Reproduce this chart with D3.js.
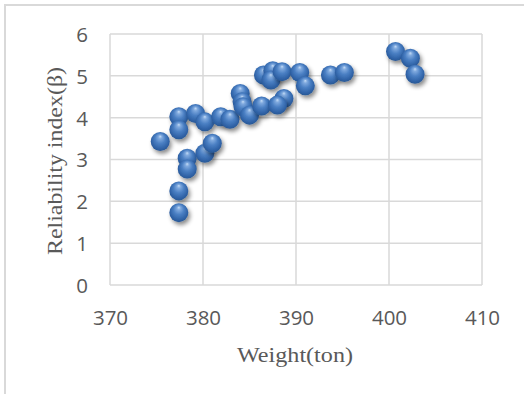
<!DOCTYPE html>
<html>
<head>
<meta charset="utf-8">
<script src="https://cdn.jsdelivr.net/npm/d3@7"></script>
<style>
  html, body { margin: 0; padding: 0; background: #fff; }
  svg { display: block; }
</style>
</head>
<body>
<svg id="chart" width="524" height="394"></svg>
<script>
const weights = [375.4, 377.4, 377.4, 378.3, 378.3, 377.4, 377.4, 379.2, 380.2, 380.2,
                 381.0, 381.9, 382.9, 384.0, 384.2, 384.3, 385.0, 386.3, 386.5, 387.5,
                 387.3, 388.5, 388.7, 388.0, 390.4, 391.0, 393.7, 395.2, 400.7, 402.3, 402.8];
const betas   = [3.43, 4.02, 3.71, 3.03, 2.77, 2.25, 1.73, 4.10, 3.90, 3.15,
                 3.39, 4.02, 3.96, 4.58, 4.38, 4.26, 4.06, 4.28, 5.02, 5.12,
                 4.90, 5.10, 4.46, 4.30, 5.08, 4.76, 5.02, 5.08, 5.58, 5.42, 5.04];
const xTicks = [370, 380, 390, 400, 410];
const yTicks = [0, 1, 2, 3, 4, 5, 6];
const xTitle = "Weight(ton)";
const yTitle = "Reliability index(β)";

const svg = d3.select("#chart");
const x = d3.scaleLinear().domain([370, 410]).range([110, 482]);
const y = d3.scaleLinear().domain([0, 6]).range([285, 34]);

// chart border
svg.append("rect").attr("x", 5).attr("y", 5).attr("width", 530).attr("height", 400)
  .attr("fill", "none").attr("stroke", "#d9d9d9").attr("stroke-width", 2);

const defs = svg.append("defs");
const grad = defs.append("radialGradient").attr("id", "ball")
  .attr("cx", "50%").attr("cy", "45%").attr("r", "55%")
  .attr("fx", "50%").attr("fy", "22%");
[["0%", "#c4dcf6"], ["18%", "#7fa9de"], ["50%", "#4a7fc3"], ["85%", "#2f62a6"], ["100%", "#2a5894"]]
  .forEach(([o, c]) => grad.append("stop").attr("offset", o).attr("stop-color", c));
const f = defs.append("filter").attr("id", "shadow").attr("x", "-50%").attr("y", "-50%")
  .attr("width", "200%").attr("height", "200%");
f.append("feDropShadow").attr("dx", 2).attr("dy", 3).attr("stdDeviation", 2)
  .attr("flood-color", "#000").attr("flood-opacity", 0.45);

// gridlines
svg.append("g").selectAll("line.h").data(yTicks).join("line")
  .attr("x1", x(370)).attr("x2", x(410)).attr("y1", d => y(d)).attr("y2", d => y(d))
  .attr("stroke", "#d9d9d9").attr("stroke-width", 1.5);
svg.append("g").selectAll("line.v").data(xTicks).join("line")
  .attr("y1", y(0)).attr("y2", y(6)).attr("x1", d => x(d)).attr("x2", d => x(d))
  .attr("stroke", "#d9d9d9").attr("stroke-width", 1.5);

// axes via d3
const xAxis = d3.axisBottom(x).tickValues(xTicks).tickFormat(d3.format("d")).tickSize(0).tickPadding(0);
const gx = svg.append("g").attr("transform", `translate(0,${y(0)})`).call(xAxis);
gx.select(".domain").remove();
gx.selectAll("text").attr("dy", null).attr("y", 40)
  .attr("font-family", "Open Sans").attr("font-size", 20.5).attr("fill", "#595959");

const yAxis = d3.axisLeft(y).tickValues(yTicks).tickFormat(d3.format("d")).tickSize(0).tickPadding(0);
const gy = svg.append("g").attr("transform", `translate(88,0)`).call(yAxis);
gy.select(".domain").remove();
gy.selectAll("text").attr("x", 0).attr("dy", "0.36em")
  .attr("font-family", "Open Sans").attr("font-size", 20.5).attr("fill", "#595959");

// titles
svg.append("text").attr("x", 295).attr("y", 362).attr("text-anchor", "middle")
  .attr("font-family", "Liberation Serif").attr("font-size", 22).attr("fill", "#595959")
  .attr("textLength", 116).attr("lengthAdjust", "spacingAndGlyphs")
  .text(xTitle);
svg.append("text").attr("transform", "translate(62,161) rotate(-90)")
  .attr("text-anchor", "middle")
  .attr("font-family", "Liberation Serif").attr("font-size", 22).attr("fill", "#595959")
  .attr("textLength", 188).attr("lengthAdjust", "spacingAndGlyphs")
  .text(yTitle);

// points
const pts = weights.map((w, i) => ({ w, b: betas[i] }));
svg.append("g").selectAll("circle").data(pts).join("circle")
  .attr("cx", d => x(d.w)).attr("cy", d => y(d.b)).attr("r", 9.5)
  .attr("fill", "url(#ball)").attr("filter", "url(#shadow)");
</script>
</body>
</html>
